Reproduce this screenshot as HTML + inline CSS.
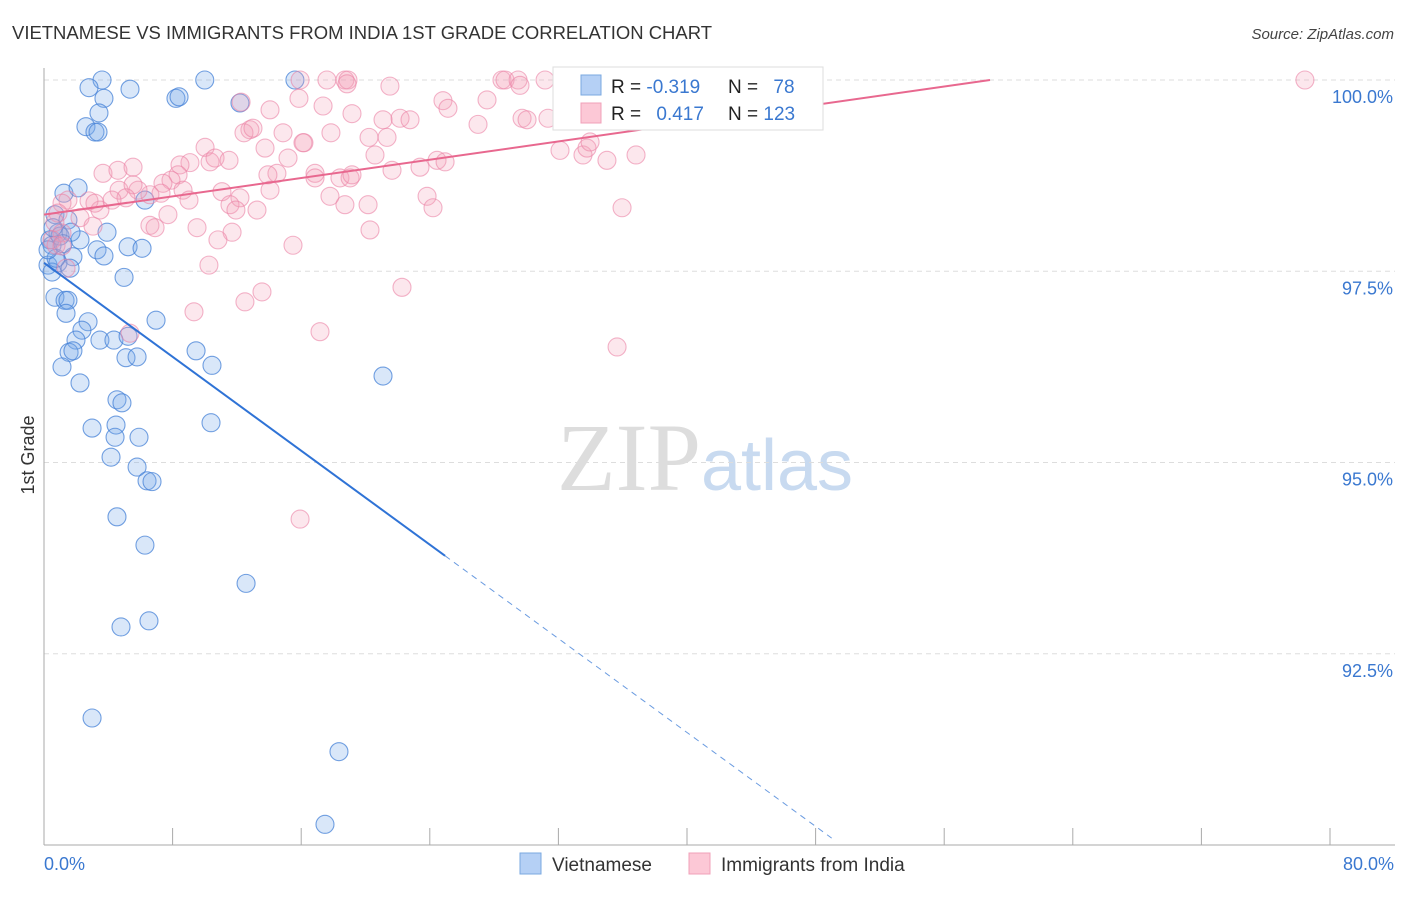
<!DOCTYPE html>
<html><head><meta charset="utf-8"><style>
body{margin:0;background:#fff;font-family:"Liberation Sans",sans-serif;}
</style></head><body>
<svg id="c" width="1406" height="892" xmlns="http://www.w3.org/2000/svg" font-family="Liberation Sans, sans-serif">
<text x="12" y="39" font-size="18" fill="#333" textLength="700" lengthAdjust="spacingAndGlyphs">VIETNAMESE VS IMMIGRANTS FROM INDIA 1ST GRADE CORRELATION CHART</text>
<text x="1394" y="39" font-size="15" fill="#444" text-anchor="end" font-style="italic">Source: ZipAtlas.com</text>
<text x="705" y="490" font-size="96" text-anchor="middle" font-family="Liberation Serif, serif" fill="#ddd">ZIP<tspan fill="#c8daf0" font-family="Liberation Sans, sans-serif" font-size="72">atlas</tspan></text>
<text transform="translate(34,455) rotate(-90)" font-size="18" fill="#333" text-anchor="middle">1st Grade</text>
<g id="grid"></g><g id="pts"></g><g id="lines"></g>
<g>
<rect x="553" y="67" width="270" height="63" fill="#fff" stroke="#ddd"/>
<rect x="581" y="75" width="20" height="20" fill="#b5d0f5" stroke="#7aa8e0"/>
<rect x="581" y="103" width="20" height="20" fill="#fcc8d6" stroke="#f0a0b8"/>
<text x="611" y="93" font-size="19" fill="#222">R = <tspan fill="#3a78d0">-0.319</tspan></text>
<text x="728" y="93" font-size="19" fill="#222">N = <tspan fill="#3a78d0" dx="10">78</tspan></text>
<text x="611" y="120" font-size="19" fill="#222">R = <tspan fill="#3a78d0" dx="10">0.417</tspan></text>
<text x="728" y="120" font-size="19" fill="#222">N = <tspan fill="#3a78d0">123</tspan></text>
</g>
<g>
<rect x="520" y="853" width="21" height="21" fill="#b5d0f5" stroke="#7aa8e0"/>
<text x="552" y="871" font-size="19" fill="#333">Vietnamese</text>
<rect x="689" y="853" width="21" height="21" fill="#fcc8d6" stroke="#f0a0b8"/>
<text x="721" y="871" font-size="19" fill="#333">Immigrants from India</text>
</g>
</svg>
<script>
const yTicks=[100,97.5,95,92.5];
const yTickLabels=["100.0%","97.5%","95.0%","92.5%"];
const xTickCount=10;
const xEndLabels=["0.0%","80.0%"];
const blue=[[3.61,100],[2.8,99.9],[5.35,99.88],[3.73,99.76],[8.21,99.76],[8.4,99.78],[10.0,100],[15.61,100],[3.42,99.57],[2.61,99.39],[3.17,99.32],[3.36,99.32],[12.19,99.7],[1.24,98.52],[2.12,98.59],[6.28,98.43],[0.68,98.24],[1.49,98.17],[0.87,98.0],[0.37,97.91],[2.24,97.91],[3.92,98.01],[5.23,97.82],[6.1,97.8],[3.3,97.78],[3.73,97.7],[1.8,97.69],[0.25,97.58],[0.87,97.61],[1.62,97.54],[0.5,97.49],[4.98,97.42],[0.68,97.16],[1.31,97.12],[1.49,97.12],[1.37,96.95],[6.97,96.86],[2.74,96.84],[2.36,96.73],[1.99,96.6],[3.48,96.6],[4.35,96.6],[5.23,96.65],[1.56,96.44],[1.8,96.46],[5.1,96.37],[5.79,96.38],[9.46,96.46],[10.45,96.27],[1.12,96.25],[2.24,96.04],[21.09,96.13],[4.54,95.82],[4.85,95.78],[2.99,95.45],[4.48,95.49],[4.42,95.33],[5.91,95.33],[10.39,95.52],[4.17,95.07],[5.79,94.94],[6.41,94.76],[6.72,94.75],[4.54,94.29],[6.28,93.92],[12.57,93.42],[4.79,92.85],[6.53,92.93],[2.99,91.66],[18.35,91.22],[17.48,90.27],[0.5,97.84],[0.75,97.67],[1.0,97.96],[0.25,97.78],[1.68,98.01],[0.56,98.07],[1.18,97.86]];
const pink=[[15.93,100],[17.6,100],[18.72,100],[18.91,100],[28.49,100],[28.68,100],[29.49,100],[31.17,100],[39.56,100],[78.44,100],[12.26,99.71],[14.06,99.61],[15.86,99.76],[17.36,99.66],[19.16,99.56],[18.85,99.95],[21.52,99.92],[24.82,99.73],[25.13,99.63],[27.56,99.74],[29.61,99.93],[27.0,99.42],[29.74,99.5],[30.05,99.48],[22.15,99.5],[22.77,99.48],[21.09,99.48],[20.22,99.25],[17.85,99.31],[16.17,99.18],[14.87,99.31],[13.75,99.11],[12.81,99.35],[12.44,99.31],[13.0,99.37],[10.02,99.12],[10.33,98.93],[10.64,98.98],[11.51,98.95],[9.08,98.92],[8.46,98.89],[8.34,98.76],[7.9,98.69],[7.4,98.65],[8.65,98.56],[7.28,98.52],[6.59,98.5],[5.85,98.56],[4.67,98.56],[3.67,98.78],[4.6,98.82],[5.54,98.86],[5.54,98.63],[5.1,98.46],[4.23,98.43],[3.48,98.3],[2.8,98.42],[3.17,98.39],[2.24,98.2],[1.49,98.43],[1.12,98.39],[0.87,98.26],[0.68,98.14],[1.12,98.0],[0.5,97.91],[0.75,97.84],[1.12,97.83],[1.37,97.54],[12.19,98.46],[11.07,98.54],[11.57,98.37],[11.94,98.3],[13.25,98.3],[14.06,98.56],[14.49,98.78],[13.93,98.76],[15.18,98.98],[16.11,99.18],[16.86,98.78],[16.86,98.72],[18.41,98.72],[19.04,98.72],[18.72,98.37],[17.79,98.48],[19.16,98.76],[20.28,98.04],[20.59,99.02],[21.65,98.82],[23.39,98.86],[24.45,98.95],[24.95,98.93],[23.83,98.48],[24.2,98.33],[21.34,99.25],[32.1,99.08],[33.53,99.02],[33.78,99.11],[35.02,98.95],[33.97,99.19],[36.83,99.02],[35.96,98.33],[35.65,96.51],[22.27,97.29],[15.93,94.26],[17.17,96.71],[13.56,97.23],[12.5,97.1],[9.33,96.97],[10.26,97.58],[11.7,98.01],[10.82,97.91],[9.52,98.07],[6.59,98.1],[6.91,98.07],[7.71,98.24],[9.02,98.43],[3.05,98.09],[5.35,96.69],[15.49,97.84],[20.16,98.37],[31.35,99.5],[33.84,99.9]];
const blueTrend=[[0,97.61],[24.95,93.78],[49.0,90.09]];
const pinkTrend=[[0,98.24],[58.85,100]];
const NS="http://www.w3.org/2000/svg";
const X=v=>44+v*16.075, Y=v=>80+(100-v)*76.5;
function mk(tag,attrs,parent){const e=document.createElementNS(NS,tag);for(const k in attrs)e.setAttribute(k,attrs[k]);parent.appendChild(e);return e;}
const grid=document.getElementById('grid'),pts=document.getElementById('pts'),lines=document.getElementById('lines');
yTicks.forEach((t,i)=>{
 const l=mk('line',{x1:44,x2:1395,y1:Y(t),y2:Y(t),stroke:'#ddd','stroke-dasharray':'5,4'},grid);
 
 
 const tx=mk('text',{x:1393,y:Y(t)+23,'font-size':18,fill:'#3a78d0','text-anchor':'end'},grid);
 tx.textContent=yTickLabels[i];
 
 
});
const ax=mk('line',{x1:44,x2:44,y1:68,y2:845,stroke:'#aaa'},grid);


const bx=mk('line',{x1:44,x2:1395,y1:845,y2:845,stroke:'#aaa'},grid);


for(let i=0;i<=xTickCount;i++){
 const t=mk('line',{x1:X(i*8),x2:X(i*8),y1:828,y2:845,stroke:'#aaa'},grid);
 
 
}
[[0,'start'],[80,'end']].forEach((p,i)=>{
 const t=mk('text',{x:p[0]?1394:44,y:870,'font-size':18,fill:'#3a78d0','text-anchor':p[1]},grid);
 t.textContent=xEndLabels[i];
 
 
});
blue.forEach(d=>{
 const c=mk('circle',{cx:X(d[0]),cy:Y(d[1]),r:9,fill:'rgba(120,170,235,0.28)',stroke:'rgba(70,130,215,0.75)','stroke-width':1.1},pts);
 
 
});
pink.forEach(d=>{
 const c=mk('circle',{cx:X(d[0]),cy:Y(d[1]),r:9,fill:'rgba(245,160,185,0.25)',stroke:'rgba(235,130,165,0.6)','stroke-width':1.1},pts);
 
 
});
const b1=mk('line',{x1:X(blueTrend[0][0]),y1:Y(blueTrend[0][1]),x2:X(blueTrend[1][0]),y2:Y(blueTrend[1][1]),stroke:'#2f73d6','stroke-width':2},lines);


const b2=mk('line',{x1:X(blueTrend[1][0]),y1:Y(blueTrend[1][1]),x2:X(blueTrend[2][0]),y2:Y(blueTrend[2][1]),stroke:'#6a9be0','stroke-width':1,'stroke-dasharray':'6,5'},lines);


const p1=mk('line',{x1:X(pinkTrend[0][0]),y1:Y(pinkTrend[0][1]),x2:X(pinkTrend[1][0]),y2:Y(pinkTrend[1][1]),stroke:'#e8688f','stroke-width':2},lines);


</script>
</body></html>
